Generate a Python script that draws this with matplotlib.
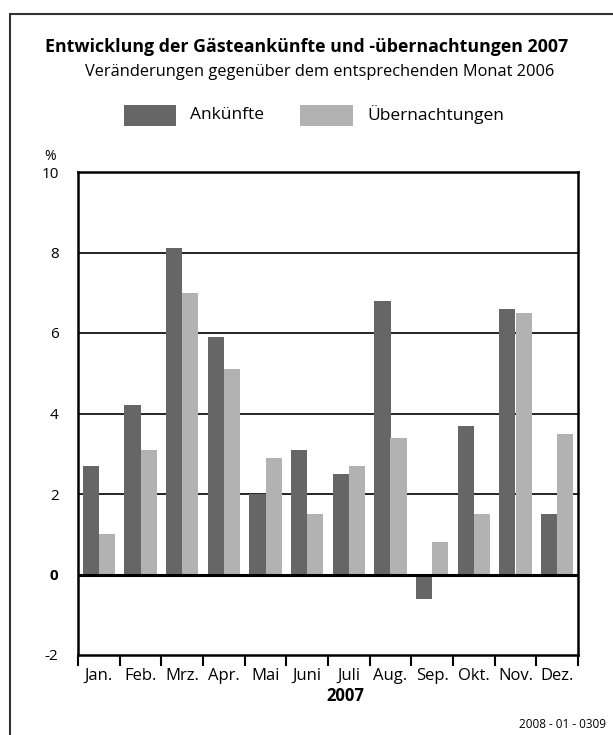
import numpy as np
import matplotlib
matplotlib.use("Agg")
import matplotlib.pyplot as plt
from matplotlib.patches import Rectangle

plt.rcParams['font.family'] = ['Open Sans', 'DejaVu Sans']

months = ["Jan.", "Feb.", "Mrz.", "Apr.", "Mai", "Juni", "Juli", "Aug.", "Sep.", "Okt.", "Nov.", "Dez."]
ankuenfte = [2.7, 4.2, 8.1, 5.9, 2.0, 3.1, 2.5, 6.8, -0.6, 3.7, 6.6, 1.5]
uebernachtungen = [1.0, 3.1, 7.0, 5.1, 2.9, 1.5, 2.7, 3.4, 0.8, 1.5, 6.5, 3.5]
yticks = [-2, 0, 2, 4, 6, 8, 10]

dark = "#666666"
light = "#b2b2b2"

fig = plt.figure(figsize=(6.13, 7.35), dpi=100)
W, H = 613, 735

# outer frame
fig.patches.append(Rectangle((10 / W, -0.1), 1.2, 1 - 14 / H + 0.1, transform=fig.transFigure,
                             fill=False, edgecolor="#333333", linewidth=1.5))

ax = fig.add_axes([78 / W, 1 - 655 / H, 500 / W, 483 / H])
x = np.arange(len(months))
bw = 0.385
ax.bar(x - bw / 2, ankuenfte, bw, color=dark, zorder=3)
ax.bar(x + bw / 2, uebernachtungen, bw, color=light, zorder=3)

ax.set_xlim(-0.5, 11.5)
ax.set_ylim(-2, 10)
for v in [2, 4, 6, 8]:
    ax.axhline(v, color="black", linewidth=1.2, zorder=1)
ax.axhline(0, color="black", linewidth=2.2, zorder=4)
for s in ax.spines.values():
    s.set_linewidth(1.8)

ax.set_yticks(yticks)
ax.set_yticklabels([str(v) for v in yticks], fontsize=11)
for lbl in ax.get_yticklabels():
    if lbl.get_text() == "0":
        lbl.set_fontweight("bold")
ax.tick_params(axis="y", length=0, pad=14)

ax.set_xticks(np.arange(-0.5, 12, 1))
ax.set_xticklabels([])
ax.tick_params(axis="x", length=8, width=1.5, direction="out")
ax.set_xticks(x, minor=True)
ax.set_xticklabels(months, minor=True, fontsize=12)
ax.tick_params(axis="x", which="minor", length=0, pad=9)

fig.text(345 / W, 1 - 696 / H, "2007", ha="center", va="center", fontsize=12, fontweight="bold")
fig.text(44 / W, 1 - 157 / H, "%", ha="left", va="center", fontsize=10)

fig.text(307 / W, 1 - 47 / H, "Entwicklung der Gästeankünfte und -übernachtungen 2007",
         ha="center", va="center", fontsize=12.8, fontweight="bold")
fig.text(320 / W, 1 - 72 / H, "Veränderungen gegenüber dem entsprechenden Monat 2006",
         ha="center", va="center", fontsize=11.8)

# legend
fig.patches.append(Rectangle((124 / W, 1 - 126 / H), 52 / W, 21 / H, transform=fig.transFigure,
                             facecolor=dark, edgecolor="none"))
fig.text(190 / W, 1 - 115 / H, "Ankünfte", ha="left", va="center", fontsize=12.5)
fig.patches.append(Rectangle((300 / W, 1 - 126 / H), 53 / W, 21 / H, transform=fig.transFigure,
                             facecolor=light, edgecolor="none"))
fig.text(367 / W, 1 - 115 / H, "Übernachtungen", ha="left", va="center", fontsize=12.5)

fig.text(606 / W, 1 - 725 / H, "2008 - 01 - 0309", ha="right", va="center", fontsize=8.5)

fig.savefig("out.png", dpi=100)
